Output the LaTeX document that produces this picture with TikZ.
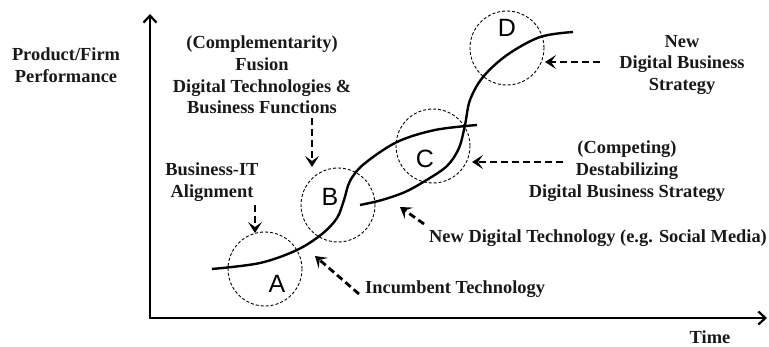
\documentclass[tikz,border=0pt]{standalone}
\usepackage{fontspec}
\setmainfont{Liberation Serif}
\newfontfamily\letterfont{Liberation Sans}
\usetikzlibrary{arrows.meta}
\begin{document}
\begin{tikzpicture}[x=1pt,y=-1pt,
 lbl/.style={font=\bfseries\fontsize{18.4}{21.7}\selectfont, align=center, inner sep=0pt, text=black!90},
 zone/.style={circle, draw, dash pattern=on 3pt off 2pt, line width=0.9pt, minimum size=74pt, inner sep=0pt},
 letter/.style={font=\letterfont\fontsize{25}{25}\selectfont, inner sep=0pt},
 curve/.style={line width=2.4pt},
 axis/.style={line width=2.6pt, {Straight Barb[length=7pt,width=13pt,line width=2.2pt]}-{Straight Barb[length=7pt,width=13pt,line width=2.2pt]}},
 pointer/.style={line width=2.8pt, dash pattern=on 7pt off 4pt, -{Stealth[length=11pt,width=14pt,inset=5pt]}}]
\useasboundingbox (0,0) rectangle (769,347);

% axes
\coordinate (ytop) at (150,14);
\coordinate (orig) at (150,318);
\coordinate (xend) at (767,318);
\draw[axis] (ytop) -- (orig) -- (xend);

% zones
\node[zone] (za) at (265,269) {};
\node[zone] (zb) at (338,205) {};
\node[zone] (zc) at (433,146) {};
\node[zone] (zd) at (507,48) {};
\node[letter] (la) at (277,284) {A};
\node[letter] (lb) at (330,197) {B};
\node[letter] (lc) at (425,159) {C};
\node[letter] (ld) at (507,28) {D};

% curves
\draw[curve] plot[smooth, tension=0.55] coordinates {(212,269) (260,263) (297,250) (322,234) (337,218) (344,200) (350,181) (364,164) (397,142) (435,130) (477,125)};
\draw[curve] plot[smooth, tension=0.55] coordinates {(360,205) (382,200) (405,192) (425,181) (447,166) (459,148) (465,125) (470,100) (483,77) (507,55) (540,37) (573,32)};

% labels
\node[lbl] (perf) at (66,65) {Product/Firm\\Performance};
\node[lbl] (fusion) at (262,75) {(Complementarity)\\Fusion\\Digital Technologies \&\\Business Functions};
\node[lbl] (align) at (212,182) {Business-IT\\Alignment};
\node[lbl] (newdbs) at (682,65) {New\\Digital Business\\Strategy};
\node[lbl] (comp) at (627,171) {(Competing)\\Destabilizing\\Digital Business Strategy};
\node[lbl, anchor=west] (ndt) at (429,238) {New Digital Technology (e.g. Social Media)};
\node[lbl, anchor=west] (inc) at (365,289) {Incumbent Technology};
\node[lbl] (time) at (710,337) {Time};

% pointers
\coordinate (pa1) at (255,205); \coordinate (pa2) at (255,233);
\coordinate (pb1) at (312,118); \coordinate (pb2) at (312,167);
\coordinate (pc1) at (563,162); \coordinate (pc2) at (472,162);
\coordinate (pd1) at (600,62);  \coordinate (pd2) at (545,62);
\coordinate (pn1) at (424,224); \coordinate (pn2) at (400,207);
\coordinate (pi1) at (359,294); \coordinate (pi2) at (315,256);
\draw[pointer] (pa1) -- (pa2);
\draw[pointer] (pb1) -- (pb2);
\draw[pointer] (pc1) -- (pc2);
\draw[pointer] (pd1) -- (pd2);
\draw[pointer] (pn1) -- (pn2);
\draw[pointer] (pi1) -- (pi2);
\end{tikzpicture}
\end{document}
